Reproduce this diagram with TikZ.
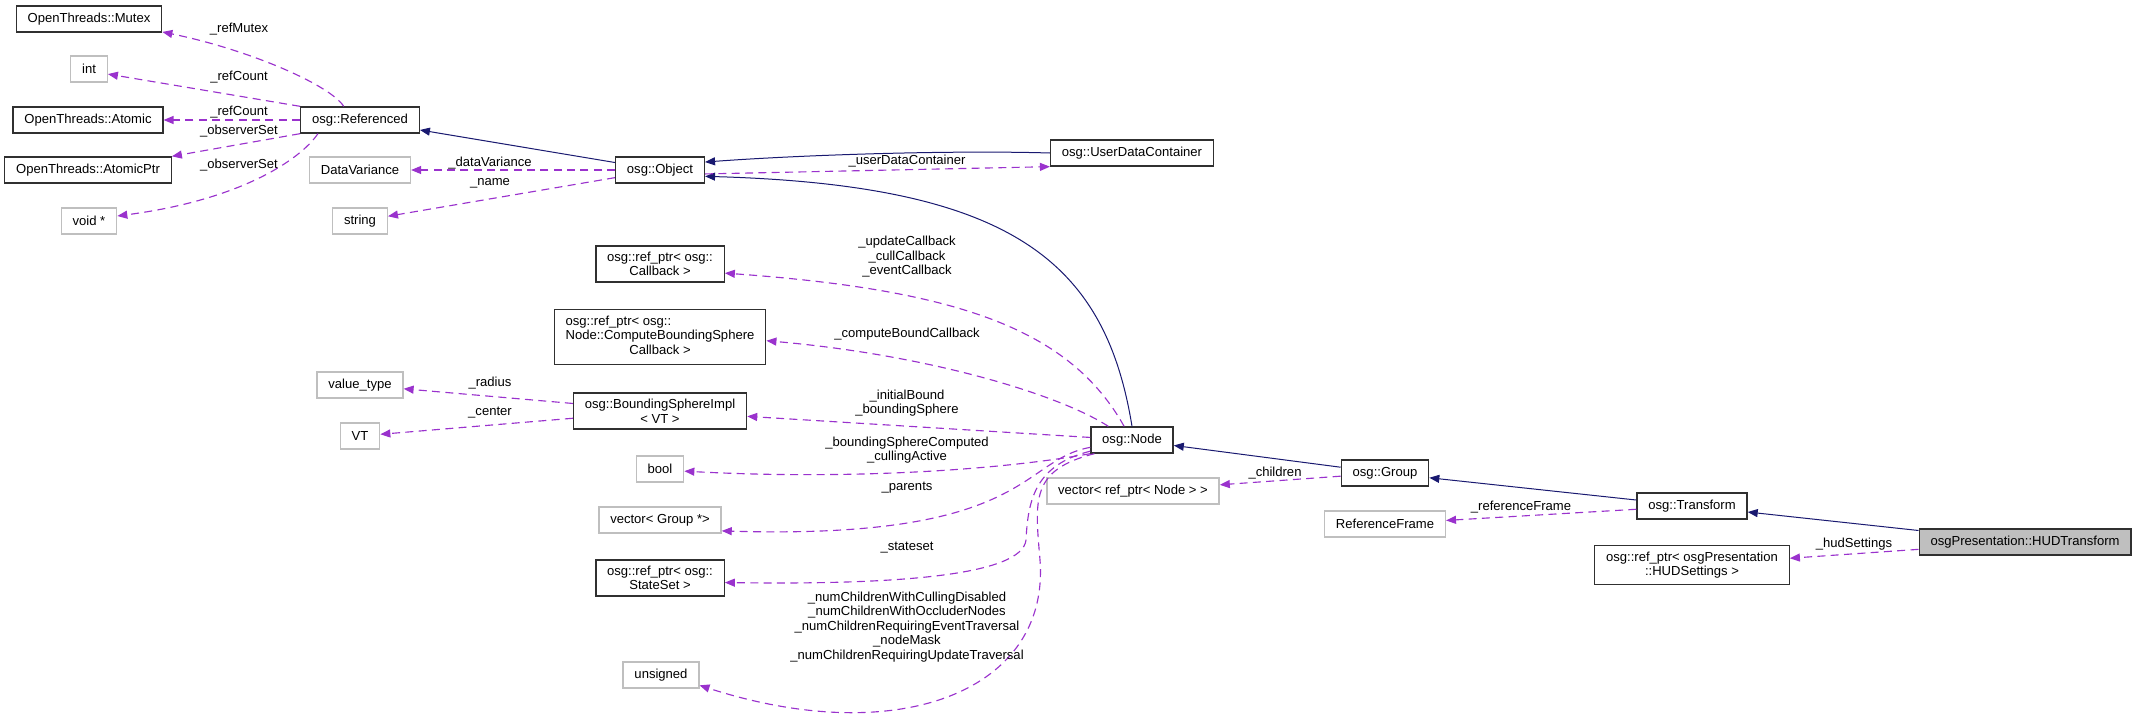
\documentclass[tikz,border=0pt]{standalone}
\usepackage{fontspec}
\setmainfont{Liberation Sans}
\usetikzlibrary{arrows.meta}
\usetikzlibrary{shapes}
\usetikzlibrary{positioning}

\definecolor{edgeblue}{HTML}{191970}
\definecolor{edgepurple}{HTML}{9A32CD}
\definecolor{boxgray}{HTML}{BFBFBF}
\definecolor{boxline}{HTML}{303030}

\begin{document}
\begin{tikzpicture}[x=0.75pt,y=-0.75pt]
            \tikzset{every node/.style={font=\fontsize{9.8}{10.9}\selectfont, inner xsep=8.5pt, inner ysep=4.5pt,
                                        minimum height=19.5pt, align=center},
                    cls/.style={draw=boxline, line width=1pt, fill=white},
                    ext/.style={draw=boxgray, line width=1pt, fill=white},
                    cur/.style={draw=boxline, line width=1pt, fill=boxgray},
                    lbl/.style={inner sep=0pt, minimum height=0pt},
                    inh/.style={draw=edgeblue, line width=0.75pt, -{Triangle[length=7.5pt,width=6pt]}},
                    mem/.style={draw=edgepurple, line width=0.85pt, dash pattern=on 6pt off 4pt,
                                -{Triangle[length=7.5pt,width=6pt]}}}
            \useasboundingbox (0,0) rectangle (2137,721);
            % classes
            \node[cls] (mutex) at (89,19) {OpenThreads::Mutex};
            \node[ext] (intT) at (89,69) {int};
            \node[cls] (atomic) at (88,120) {OpenThreads::Atomic};
            \node[cls] (aptr) at (88,170) {OpenThreads::AtomicPtr};
            \node[ext] (voidp) at (89,221) {void *};
            \node[cls] (ref) at (360,120) {osg::Referenced};
            \node[ext] (dvar) at (360,170) {DataVariance};
            \node[ext] (str) at (360,221) {string};
            \node[ext] (vtype) at (360,385) {value\_type};
            \node[ext] (vt) at (360,436) {VT};
            \node[cls] (obj) at (660,170) {osg::Object};
            \node[cls] (cb) at (660,264) {osg::ref\_ptr< osg::\\Callback >};
            \node[cls] (cbs) at (660,337) {\begin{tabular}{@{}l@{}}osg::ref\_ptr< osg::\\Node::ComputeBoundingSphere\\\multicolumn{1}{@{}c@{}}{Callback >}\end{tabular}};
            \node[cls] (bsi) at (660,411) {osg::BoundingSphereImpl\\< VT >};
            \node[ext] (boolT) at (660,469) {bool};
            \node[ext] (vgrp) at (660,520) {vector< Group *>};
            \node[cls] (sset) at (660,578) {osg::ref\_ptr< osg::\\StateSet >};
            \node[ext] (uns) at (661,675) {unsigned};
            \node[cls] (udc) at (1132,153) {osg::UserDataContainer};
            \node[cls] (osgnode) at (1132,440) {osg::Node};
            \node[ext] (vnode) at (1133,491) {vector< ref\_ptr< Node > >};
            \node[cls] (grp) at (1385,473) {osg::Group};
            \node[ext] (rframe) at (1385,524) {ReferenceFrame};
            \node[cls] (xform) at (1692,506) {osg::Transform};
            \node[cls] (hudset) at (1692,565) {osg::ref\_ptr< osgPresentation\\::HUDSettings >};
            \node[cur] (hud) at (2025,542) {osgPresentation::HUDTransform};
            % inheritance
            \draw[inh] (obj) -- (ref);
            \draw[inh] (udc.west) .. controls (950,150) and (800,155) .. (obj.10);
            \draw[inh] (osgnode.north) .. controls (1105,260) and (1010,185) .. (obj.-8);
            \draw[inh] (grp) -- (osgnode);
            \draw[inh] (xform) -- (grp);
            \draw[inh] (hud) -- (xform);
            % members
            \draw[mem] (ref.140) .. controls (330,85) and (250,50) .. (mutex.-10);
            \draw[mem] (ref.north west) -- (intT.-15);
            \draw[mem] (ref) -- (atomic);
            \draw[mem] (ref.south west) -- (aptr.north east);
            \draw[mem] (ref.-162) .. controls (300,160) and (240,200) .. (voidp.10);
            \draw[mem] (obj) -- (dvar);
            \draw[mem] (obj) -- (str);
            \draw[mem] (obj.-5) -- (udc.south west);
            \draw[mem] (osgnode.120) .. controls (1070,330) and (960,290) .. (cb.-8);
            \draw[mem] (osgnode.150) .. controls (1060,395) and (930,355) .. (cbs.-2);
            \draw[mem] (osgnode) -- (bsi);
            \draw[mem] (osgnode.south west) .. controls (1000,470) and (850,480) .. (boolT.-5);
            \draw[mem] (osgnode.-170) .. controls (1020,460) and (1030,540) .. (vgrp.-10);
            \draw[mem] (osgnode.-165) .. controls (1035,465) and (1028,500) .. (1026,540)
                                      .. controls (1022,575) and (900,585) .. (sset.-4);
            \draw[mem] (osgnode.-160) .. controls (1030,470) and (1035,500) .. (1040,560)
                                      .. controls (1050,690) and (900,750) .. (uns.-15);
            \draw[mem] (bsi) -- (vtype);
            \draw[mem] (bsi) -- (vt);
            \draw[mem] (grp) -- (vnode);
            \draw[mem] (xform) -- (rframe);
            \draw[mem] (hud) -- (hudset);
            % edge labels
            \node[lbl] (lRefMutex) at (239,29) {\_refMutex};
            \node[lbl] (lRefCountA) at (239,77) {\_refCount};
            \node[lbl] (lRefCountB) at (239,112) {\_refCount};
            \node[lbl] (lObsA) at (239,131) {\_observerSet};
            \node[lbl] (lObsB) at (239,165) {\_observerSet};
            \node[lbl] (lDataVar) at (490,163) {\_dataVariance};
            \node[lbl] (lName) at (490,183) {\_name};
            \node[lbl] (lUdc) at (907,161) {\_userDataContainer};
            \node[lbl] (lCallbacks) at (907,257) {\_updateCallback\\\_cullCallback\\\_eventCallback};
            \node[lbl] (lCompute) at (907,334) {\_computeBoundCallback};
            \node[lbl] (lRadius) at (490,383) {\_radius};
            \node[lbl] (lCenter) at (490,413) {\_center};
            \node[lbl] (lBound) at (907,403) {\_initialBound\\\_boundingSphere};
            \node[lbl] (lCulling) at (907,450) {\_boundingSphereComputed\\\_cullingActive};
            \node[lbl] (lParents) at (907,488) {\_parents};
            \node[lbl] (lStateset) at (907,548) {\_stateset};
            \node[lbl] (lCounts) at (907,627) {\_numChildrenWithCullingDisabled\\\_numChildrenWithOccluderNodes\\\_numChildrenRequiringEventTraversal\\\_nodeMask\\\_numChildrenRequiringUpdateTraversal};
            \node[lbl] (lChildren) at (1275,473) {\_children};
            \node[lbl] (lRefFrame) at (1521,507) {\_referenceFrame};
            \node[lbl] (lHud) at (1854,544) {\_hudSettings};
        \end{tikzpicture}
\end{document}
